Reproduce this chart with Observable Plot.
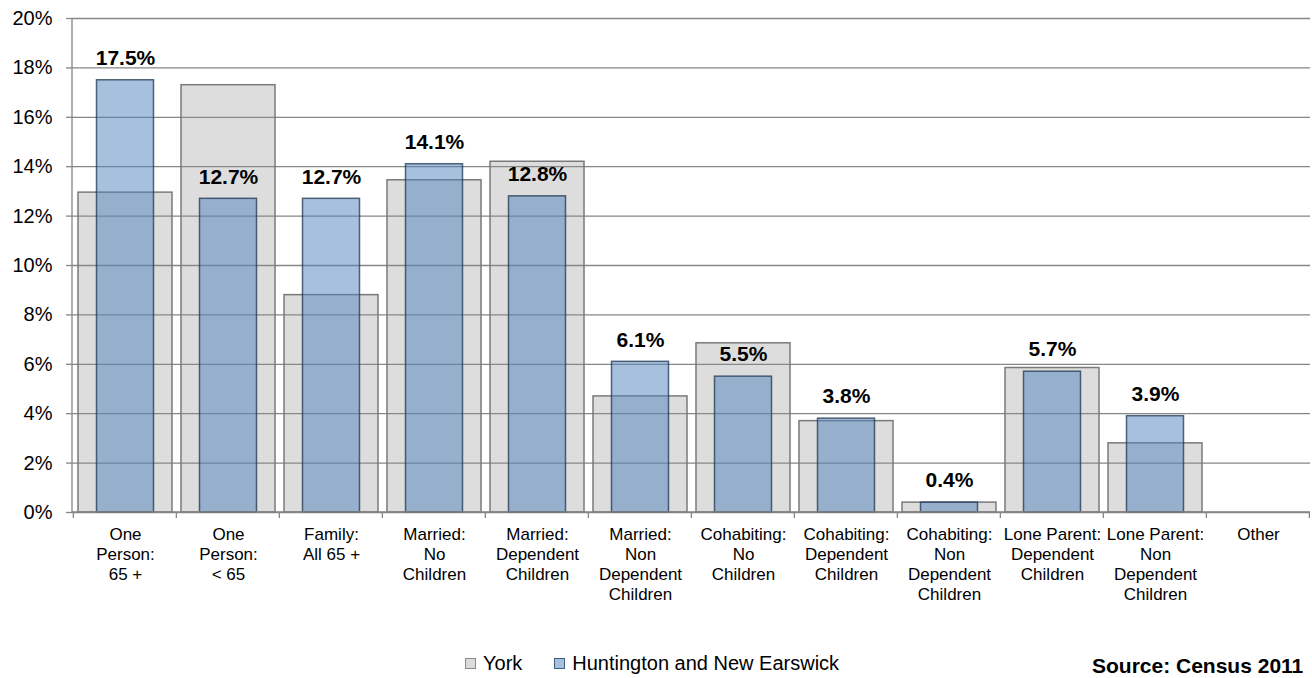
<!DOCTYPE html>
<html>
<head>
<meta charset="utf-8">
<script src="https://cdn.jsdelivr.net/npm/d3@7"></script>
<script src="https://cdn.jsdelivr.net/npm/@observablehq/plot@0.6"></script>
<style>
  html, body { margin: 0; padding: 0; background: #fff; }
  #wrap { position: relative; width: 1312px; height: 678px; overflow: hidden; font-family: "Liberation Sans", Arial, sans-serif; color: #000; }
  #legend { position: absolute; left: 465px; top: 651px; height: 24px; display: flex; align-items: center; font-size: 20px; white-space: nowrap; }
  .sw { width: 9px; height: 9px; margin-right: 7px; }
  #source { position: absolute; left: 1092px; top: 655px; line-height: 22px; font-size: 21px; font-weight: bold; white-space: nowrap; }
</style>
</head>
<body>
<div id="wrap">
  <div id="chart"></div>
  <div id="legend"></div>
  <div id="source"></div>
</div>
<script>
const categories = ["One Person: 65 +", "One Person: < 65", "Family: All 65 +", "Married: No Children", "Married: Dependent Children", "Married: Non Dependent Children", "Cohabiting: No Children", "Cohabiting: Dependent Children", "Cohabiting: Non Dependent Children", "Lone Parent: Dependent Children", "Lone Parent: Non Dependent Children", "Other"];
const tickLabels = ["One\nPerson:\n65 +", "One\nPerson:\n< 65", "Family:\nAll 65 +", "Married:\nNo\nChildren", "Married:\nDependent\nChildren", "Married:\nNon\nDependent\nChildren", "Cohabiting:\nNo\nChildren", "Cohabiting:\nDependent\nChildren", "Cohabiting:\nNon\nDependent\nChildren", "Lone Parent:\nDependent\nChildren", "Lone Parent:\nNon\nDependent\nChildren", "Other"];
const york = [12.95, 17.3, 8.8, 13.45, 14.2, 4.7, 6.85, 3.7, 0.4, 5.85, 2.8, 0];
const huntington = [17.5, 12.7, 12.7, 14.1, 12.8, 6.1, 5.5, 3.8, 0.4, 5.7, 3.9, 0];
const yTicks = [0, 2, 4, 6, 8, 10, 12, 14, 16, 18, 20];
const seriesNames = ["York", "Huntington and New Earswick"];
const sourceText = "Source: Census 2011";

const rows = categories.map((c, i) => ({category: c, label: tickLabels[i], york: york[i], hunt: huntington[i]}));
const padIn = 0.09;
const gridColor = "#868686";

function axisLines(index, scales, values, dimensions) {
  const {width, height, marginLeft, marginRight, marginTop, marginBottom} = dimensions;
  const x = scales.x, y = scales.y;
  const step = x(categories[1]) - x(categories[0]);
  const bounds = categories.map(c => x(c) - step * padIn / 2);
  bounds.push(x(categories[categories.length - 1]) + step * (1 - padIn / 2));
  const y0 = y(0);
  const g = d3.create("svg:g").attr("stroke", gridColor).attr("stroke-width", 1.3).attr("fill", "none");
  g.append("line").attr("x1", marginLeft).attr("x2", marginLeft).attr("y1", y(20)).attr("y2", y0);
  g.append("line").attr("x1", marginLeft).attr("x2", width - marginRight).attr("y1", y0).attr("y2", y0);
  for (const b of bounds) g.append("line").attr("x1", b).attr("x2", b).attr("y1", y0).attr("y2", y0 + 6);
  return g.node();
}

const chart = Plot.plot({
  width: 1312,
  height: 645,
  marginTop: 18,
  marginBottom: 133,
  marginLeft: 72,
  marginRight: 2,
  style: {fontFamily: "Liberation Sans, Arial, sans-serif", color: "#000", background: "#fff"},
  x: {domain: categories, paddingInner: padIn, paddingOuter: padIn / 2, axis: null},
  y: {domain: [0, 20], axis: null},
  marks: [
    Plot.gridY(yTicks, {stroke: gridColor, strokeOpacity: 1, strokeWidth: 1.3}),
    Plot.axisY(yTicks, {tickFormat: d => d + "%", tickSize: 6, tickPadding: 14, fontSize: 20, stroke: gridColor, strokeWidth: 1.3}),
    Plot.barY(rows.filter(d => d.york > 0), {x: "category", y: "york", fill: "#8f8f8f", fillOpacity: 0.3, stroke: "#7a7a7a", strokeWidth: 1.5}),
    Plot.barY(rows.filter(d => d.hunt > 0), {x: "category", y: "hunt", fill: "#4F81BD", fillOpacity: 0.5, stroke: "#1f3550", strokeOpacity: 0.75, strokeWidth: 1.5, insetLeft: 18.5, insetRight: 18.5}),
    axisLines,
    Plot.text(rows.filter(d => d.hunt > 0), {x: "category", y: "hunt", text: d => d.hunt.toFixed(1) + "%", dy: -22, fontSize: 21, fontWeight: "bold", fill: "#000"}),
    Plot.text(rows, {x: "category", frameAnchor: "bottom", text: "label", lineAnchor: "top", dy: 13, fontSize: 17, lineHeight: 1.18, fill: "#000"})
  ]
});
document.getElementById("chart").appendChild(chart);

const legend = document.getElementById("legend");
const swatches = [
  {fill: "#dcdcdc", border: "#8a8a8a"},
  {fill: "#a7c0df", border: "#3f5f85"}
];
seriesNames.forEach((name, i) => {
  const sw = document.createElement("div");
  sw.className = "sw";
  sw.style.background = swatches[i].fill;
  sw.style.border = "1px solid " + swatches[i].border;
  const t = document.createElement("span");
  t.textContent = name;
  if (i > 0) sw.style.marginLeft = "32px";
  legend.appendChild(sw);
  legend.appendChild(t);
});
document.getElementById("source").textContent = sourceText;
</script>
</body>
</html>
